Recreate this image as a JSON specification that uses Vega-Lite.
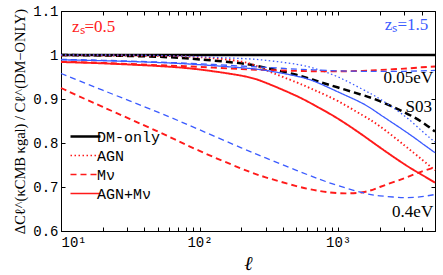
{
  "$schema": "https://vega.github.io/schema/vega-lite/v6.json",
  "width": 374,
  "height": 220,
  "autosize": "none",
  "padding": {"left": 61, "top": 11, "right": 8, "bottom": 44},
  "background": "white",
  "config": {
    "view": {"stroke": "black", "strokeWidth": 1},
    "axis": {
      "grid": false,
      "domainColor": "black",
      "tickColor": "black",
      "labelColor": "black",
      "titleColor": "black",
      "labelFont": "Liberation Mono",
      "labelFontSize": 14,
      "tickSize": -4,
      "titleFont": "Liberation Serif",
      "titleFontWeight": "normal"
    },
    "legend": {
      "labelFont": "Liberation Mono",
      "labelFontSize": 15,
      "labelColor": "black"
    }
  },
  "datasets": {
    "curves": [
      {"l": 10, "dm": 1, "s03": 1.0, "agn05": 0.999, "agn15": 1.0, "m005_05": 0.985, "m005_15": 0.99, "m04_05": 0.925, "m04_15": 0.958, "both05": 0.984, "both15": 0.989},
      {"l": 20, "dm": 1, "s03": 0.999, "agn05": 0.999, "agn15": 1.0, "m005_05": 0.982, "m005_15": 0.988, "m04_05": 0.882, "m04_15": 0.92, "both05": 0.981, "both15": 0.987},
      {"l": 50, "dm": 1, "s03": 0.996, "agn05": 0.998, "agn15": 0.999, "m005_05": 0.977, "m005_15": 0.984, "m04_05": 0.826, "m04_15": 0.87, "both05": 0.975, "both15": 0.983},
      {"l": 100, "dm": 1, "s03": 0.99, "agn05": 0.995, "agn15": 0.996, "m005_05": 0.973, "m005_15": 0.98, "m04_05": 0.782, "m04_15": 0.83, "both05": 0.967, "both15": 0.978},
      {"l": 200, "dm": 1, "s03": 0.981, "agn05": 0.985, "agn15": 0.992, "m005_05": 0.968, "m005_15": 0.975, "m04_05": 0.742, "m04_15": 0.789, "both05": 0.953, "both15": 0.971},
      {"l": 300, "dm": 1, "s03": 0.971, "agn05": 0.966, "agn15": 0.988, "m005_05": 0.966, "m005_15": 0.972, "m04_05": 0.722, "m04_15": 0.766, "both05": 0.937, "both15": 0.965},
      {"l": 500, "dm": 1, "s03": 0.955, "agn05": 0.938, "agn15": 0.979, "m005_05": 0.964, "m005_15": 0.968, "m04_05": 0.702, "m04_15": 0.738, "both05": 0.907, "both15": 0.952},
      {"l": 700, "dm": 1, "s03": 0.941, "agn05": 0.918, "agn15": 0.968, "m005_05": 0.963, "m005_15": 0.966, "m04_05": 0.692, "m04_15": 0.72, "both05": 0.883, "both15": 0.938},
      {"l": 1000, "dm": 1, "s03": 0.926, "agn05": 0.895, "agn15": 0.95, "m005_05": 0.963, "m005_15": 0.964, "m04_05": 0.686, "m04_15": 0.703, "both05": 0.855, "both15": 0.916},
      {"l": 1500, "dm": 1, "s03": 0.909, "agn05": 0.863, "agn15": 0.922, "m005_05": 0.964, "m005_15": 0.963, "m04_05": 0.688, "m04_15": 0.687, "both05": 0.818, "both15": 0.89},
      {"l": 2000, "dm": 1, "s03": 0.895, "agn05": 0.838, "agn15": 0.9, "m005_05": 0.966, "m005_15": 0.963, "m04_05": 0.7, "m04_15": 0.68, "both05": 0.79, "both15": 0.865},
      {"l": 3000, "dm": 1, "s03": 0.87, "agn05": 0.795, "agn15": 0.862, "m005_05": 0.969, "m005_15": 0.963, "m04_05": 0.72, "m04_15": 0.676, "both05": 0.752, "both15": 0.828},
      {"l": 4000, "dm": 1, "s03": 0.848, "agn05": 0.763, "agn15": 0.828, "m005_05": 0.972, "m005_15": 0.964, "m04_05": 0.735, "m04_15": 0.678, "both05": 0.728, "both15": 0.8},
      {"l": 5000, "dm": 1, "s03": 0.826, "agn05": 0.738, "agn15": 0.802, "m005_05": 0.974, "m005_15": 0.965, "m04_05": 0.745, "m04_15": 0.683, "both05": 0.71, "both15": 0.778}
    ],
    "series": [
      {"id": "dm", "z": "none", "kind": "DM-only"},
      {"id": "s03", "z": "none", "kind": "S03"},
      {"id": "agn05", "z": "0.5", "kind": "AGN"},
      {"id": "agn15", "z": "1.5", "kind": "AGN"},
      {"id": "m005_05", "z": "0.5", "kind": "Mν"},
      {"id": "m005_15", "z": "1.5", "kind": "Mν"},
      {"id": "m04_05", "z": "0.5", "kind": "Mν"},
      {"id": "m04_15", "z": "1.5", "kind": "Mν"},
      {"id": "both05", "z": "0.5", "kind": "AGN+Mν"},
      {"id": "both15", "z": "1.5", "kind": "AGN+Mν"}
    ],
    "notesRight": [
      {"l": 4470, "v": 1.068, "label": "zₛ=1.5", "z": "1.5"},
      {"l": 4850, "v": 0.948, "label": "0.05eV", "z": "none"},
      {"l": 4750, "v": 0.882, "label": "S03", "z": "none"},
      {"l": 4850, "v": 0.643, "label": "0.4eV", "z": "none"}
    ],
    "notesLeft": [
      {"l": 12, "v": 1.064, "label": "zₛ=0.5", "z": "0.5"}
    ]
  },
  "layer": [
    {
      "data": {"name": "curves"},
      "transform": [
        {"fold": ["dm", "s03", "agn05", "agn15", "m005_05", "m005_15", "m04_05", "m04_15", "both05", "both15"], "as": ["id", "v"]},
        {"lookup": "id", "from": {"data": {"name": "series"}, "key": "id", "fields": ["z", "kind"]}}
      ],
      "mark": {"type": "line", "interpolate": "natural"},
      "encoding": {
        "x": {
          "field": "l", "type": "quantitative",
          "scale": {"type": "log", "domain": [10, 5000], "nice": false},
          "axis": {
            "orient": "bottom",
            "values": [10, 20, 30, 40, 50, 60, 70, 80, 90, 100, 200, 300, 400, 500, 600, 700, 800, 900, 1000, 2000, 3000, 4000, 5000],
            "labelExpr": "datum.value == 10 ? '10¹' : datum.value == 100 ? '10²' : datum.value == 1000 ? '10³' : ''",
            "labelPadding": 8,
            "titleFontSize": 20,
            "titleFontStyle": "italic",
            "titlePadding": 4
          },
          "title": "ℓ"
        },
        "y": {
          "field": "v", "type": "quantitative",
          "scale": {"domain": [0.6, 1.1], "nice": false},
          "axis": {
            "orient": "left",
            "values": [0.6, 0.7, 0.8, 0.9, 1.0, 1.1],
            "format": "~g",
            "labelPadding": 7,
            "titleFontSize": 14.5,
            "titlePadding": 5
          },
          "title": "ΔCℓ^(κCMB κgal) / Cℓ^(DM−ONLY)"
        },
        "color": {
          "field": "z", "type": "nominal",
          "scale": {"domain": ["none", "0.5", "1.5"], "range": ["black", "#ff1a1a", "#3b5bff"]},
          "legend": null
        },
        "strokeWidth": {
          "field": "z", "type": "ordinal",
          "scale": {"domain": ["none", "0.5", "1.5"], "range": [2.5, 1.3, 1.3]},
          "legend": null
        },
        "strokeDash": {
          "field": "kind", "type": "nominal",
          "scale": {"domain": ["DM-only", "AGN", "Mν", "AGN+Mν", "S03"], "range": [[1, 0], [1.5, 2.5], [6, 4], [1, 0], [7, 4]]},
          "legend": {
            "title": null,
            "values": ["DM-only", "AGN", "Mν", "AGN+Mν"],
            "orient": "none",
            "legendX": 17,
            "legendY": 118,
            "symbolType": "stroke",
            "symbolSize": 900,
            "labelOffset": 4,
            "rowPadding": 3,
            "encode": {
              "symbols": {
                "update": {
                  "stroke": {"signal": "datum.value === 'DM-only' ? 'black' : '#ff1a1a'"},
                  "strokeWidth": {"signal": "datum.value === 'DM-only' ? 2.5 : 1.3"}
                }
              }
            }
          }
        },
        "detail": {"field": "id"}
      }
    },
    {
      "data": {"name": "notesRight"},
      "mark": {"type": "text", "align": "right", "baseline": "middle", "font": "Liberation Serif", "fontSize": 17},
      "encoding": {
        "x": {"field": "l", "type": "quantitative", "axis": null},
        "y": {"field": "v", "type": "quantitative", "axis": null},
        "text": {"field": "label"},
        "color": {"field": "z", "type": "nominal", "legend": null}
      }
    },
    {
      "data": {"name": "notesLeft"},
      "mark": {"type": "text", "align": "left", "baseline": "middle", "font": "Liberation Serif", "fontSize": 17},
      "encoding": {
        "x": {"field": "l", "type": "quantitative", "axis": null},
        "y": {"field": "v", "type": "quantitative", "axis": null},
        "text": {"field": "label"},
        "color": {"field": "z", "type": "nominal", "legend": null}
      }
    },
    {
      "data": {"name": "notesRight"},
      "mark": {"type": "point", "opacity": 0},
      "encoding": {
        "x": {
          "field": "l", "type": "quantitative",
          "axis": {
            "orient": "top", "labels": false, "title": null, "domain": false,
            "values": [10, 20, 30, 40, 50, 60, 70, 80, 90, 100, 200, 300, 400, 500, 600, 700, 800, 900, 1000, 2000, 3000, 4000, 5000]
          }
        },
        "y": {
          "field": "v", "type": "quantitative",
          "axis": {"orient": "right", "labels": false, "title": null, "domain": false, "values": [0.6, 0.7, 0.8, 0.9, 1.0, 1.1]}
        }
      }
    }
  ],
  "resolve": {"axis": {"x": "independent", "y": "independent"}}
}
